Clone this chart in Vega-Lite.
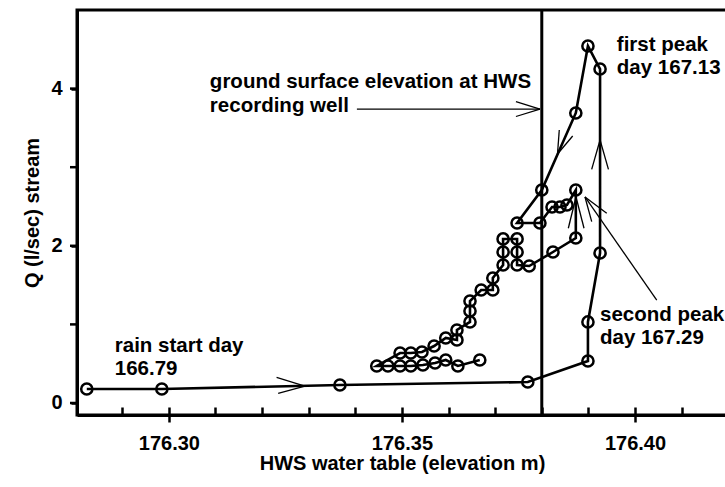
{
  "$schema": "https://vega.github.io/schema/vega-lite/v6.json",
  "width": 650,
  "height": 405,
  "autosize": {"type": "none"},
  "padding": {"left": 77, "top": 10, "right": 0, "bottom": 72},
  "background": "white",
  "config": {
    "view": {"stroke": "black", "strokeWidth": 3},
    "font": "Liberation Sans",
    "axis": {
      "grid": false,
      "domainColor": "black",
      "domainWidth": 3,
      "tickColor": "black",
      "tickWidth": 2.5,
      "labelColor": "black",
      "labelFont": "Liberation Sans",
      "labelFontWeight": "bold",
      "labelFontSize": 20,
      "titleColor": "black",
      "titleFont": "Liberation Sans",
      "titleFontWeight": "bold",
      "titleFontSize": 20
    }
  },
  "datasets": {
    "pts": [
      {"ord": 1, "x": 176.2824, "q": 0.178},
      {"ord": 2, "x": 176.2985, "q": 0.178},
      {"ord": 3, "x": 176.3367, "q": 0.229},
      {"ord": 4, "x": 176.3770, "q": 0.267},
      {"ord": 5, "x": 176.3899, "q": 0.534},
      {"ord": 6, "x": 176.3899, "q": 1.031},
      {"ord": 7, "x": 176.3925, "q": 1.908},
      {"ord": 8, "x": 176.3925, "q": 4.249},
      {"ord": 9, "x": 176.3899, "q": 4.542},
      {"ord": 10, "x": 176.3873, "q": 3.690},
      {"ord": 11, "x": 176.3800, "q": 2.710},
      {"ord": 12, "x": 176.3747, "q": 2.290},
      {"ord": 13, "x": 176.3796, "q": 2.290},
      {"ord": 14, "x": 176.3822, "q": 2.494},
      {"ord": 15, "x": 176.3839, "q": 2.494},
      {"ord": 16, "x": 176.3854, "q": 2.519},
      {"ord": 17, "x": 176.3873, "q": 2.710},
      {"ord": 18, "x": 176.3873, "q": 2.099},
      {"ord": 19, "x": 176.3824, "q": 1.921},
      {"ord": 20, "x": 176.3773, "q": 1.743},
      {"ord": 21, "x": 176.3747, "q": 1.756},
      {"ord": 22, "x": 176.3747, "q": 1.921},
      {"ord": 23, "x": 176.3747, "q": 2.087},
      {"ord": 24, "x": 176.3717, "q": 2.087},
      {"ord": 25, "x": 176.3717, "q": 1.921},
      {"ord": 26, "x": 176.3717, "q": 1.756},
      {"ord": 27, "x": 176.3695, "q": 1.590},
      {"ord": 28, "x": 176.3695, "q": 1.438},
      {"ord": 29, "x": 176.3670, "q": 1.438},
      {"ord": 30, "x": 176.3646, "q": 1.298},
      {"ord": 31, "x": 176.3646, "q": 1.170},
      {"ord": 32, "x": 176.3646, "q": 1.031},
      {"ord": 33, "x": 176.3618, "q": 0.929},
      {"ord": 34, "x": 176.3618, "q": 0.802},
      {"ord": 35, "x": 176.3594, "q": 0.827},
      {"ord": 36, "x": 176.3569, "q": 0.725},
      {"ord": 37, "x": 176.3543, "q": 0.649},
      {"ord": 38, "x": 176.3519, "q": 0.636},
      {"ord": 39, "x": 176.3496, "q": 0.636},
      {"ord": 40, "x": 176.3446, "q": 0.471},
      {"ord": 41, "x": 176.3470, "q": 0.471},
      {"ord": 42, "x": 176.3496, "q": 0.471},
      {"ord": 43, "x": 176.3519, "q": 0.471},
      {"ord": 44, "x": 176.3545, "q": 0.483},
      {"ord": 45, "x": 176.3571, "q": 0.509},
      {"ord": 46, "x": 176.3594, "q": 0.547},
      {"ord": 47, "x": 176.3620, "q": 0.471},
      {"ord": 48, "x": 176.3667, "q": 0.547}
    ],
    "segs": [
      {"x": 176.32311, "y": 0.327, "x2": 176.32918, "y2": 0.216},
      {"x": 176.32345, "y": 0.123, "x2": 176.32918, "y2": 0.216},
      {"x": 176.3907, "y": 2.973, "x2": 176.3925, "y2": 3.346},
      {"x": 176.3943, "y": 2.973, "x2": 176.3925, "y2": 3.346},
      {"x": 176.38375, "y": 3.473, "x2": 176.38337, "y2": 3.168},
      {"x": 176.38663, "y": 3.397, "x2": 176.38337, "y2": 3.168},
      {"x": 176.40466, "y": 1.310, "x2": 176.38927, "y2": 2.621},
      {"x": 176.39393, "y": 2.413, "x2": 176.38927, "y2": 2.621},
      {"x": 176.39071, "y": 2.307, "x2": 176.38927, "y2": 2.621},
      {"x": 176.38569, "y": 2.223, "x2": 176.38734, "y2": 2.621},
      {"x": 176.38906, "y": 2.223, "x2": 176.38734, "y2": 2.621},
      {"x": 176.34034, "y": 3.74, "x2": 176.37961, "y2": 3.74},
      {"x": 176.37446, "y": 3.835, "x2": 176.37961, "y2": 3.74},
      {"x": 176.37446, "y": 3.645, "x2": 176.37961, "y2": 3.74}
    ],
    "labels": [
      {"x": 176.2884, "y": 0.649, "t": "rain start day"},
      {"x": 176.2884, "y": 0.356, "t": "166.79"},
      {"x": 176.3088, "y": 4.008, "t": "ground surface elevation at HWS"},
      {"x": 176.3088, "y": 3.705, "t": "recording well"},
      {"x": 176.3961, "y": 4.478, "t": "first peak"},
      {"x": 176.3961, "y": 4.186, "t": "day 167.13"},
      {"x": 176.3925, "y": 1.043, "t": "second peak"},
      {"x": 176.3925, "y": 0.751, "t": "day 167.29"}
    ],
    "yticks": [
      {"v": 0, "edge": 176.2803},
      {"v": 1, "edge": 176.2803},
      {"v": 2, "edge": 176.2803},
      {"v": 3, "edge": 176.2803},
      {"v": 4, "edge": 176.2803}
    ]
  },
  "layer": [
    {
      "data": {"values": [{"ground": 176.38}]},
      "mark": {"type": "rule", "color": "black", "strokeWidth": 3},
      "encoding": {
        "x": {
          "field": "ground", "type": "quantitative",
          "scale": {"domain": [176.2803, 176.41973], "nice": false, "zero": false},
          "axis": {
            "orient": "bottom",
            "values": [176.30, 176.35, 176.40],
            "format": ".2f",
            "tickSize": 7,
            "labelPadding": 11,
            "title": "HWS water table (elevation m)",
            "titlePadding": 0
          }
        }
      }
    },
    {
      "data": {"name": "pts"},
      "mark": {"type": "line", "color": "black", "strokeWidth": 2.6},
      "encoding": {
        "x": {
          "field": "x", "type": "quantitative",
          "scale": {"domain": [176.2803, 176.41973], "nice": false, "zero": false},
          "axis": {
            "orient": "bottom",
            "values": [176.29, 176.30, 176.31, 176.32, 176.33, 176.34, 176.35, 176.36, 176.37, 176.38, 176.39, 176.40, 176.41],
            "tickSize": -8,
            "labels": false,
            "domain": false,
            "title": null
          }
        },
        "y": {
          "field": "q", "type": "quantitative",
          "scale": {"domain": [-0.1527, 5.0], "nice": false, "zero": false},
          "axis": {
            "orient": "left",
            "values": [0, 2, 4],
            "format": "d",
            "tickSize": 6,
            "labelPadding": 9,
            "title": "Q (l/sec) stream",
            "titlePadding": 8
          }
        },
        "order": {"field": "ord", "type": "quantitative"}
      }
    },
    {
      "data": {"name": "yticks"},
      "mark": {"type": "rule", "color": "black", "strokeWidth": 2.5, "xOffset": -7, "x2Offset": 0},
      "encoding": {
        "x": {"field": "edge", "type": "quantitative", "axis": null},
        "x2": {"field": "edge"},
        "y": {"field": "v", "type": "quantitative", "axis": null}
      }
    },
    {
      "data": {"name": "segs"},
      "mark": {"type": "rule", "color": "black", "strokeWidth": 1.3},
      "encoding": {
        "x": {"field": "x", "type": "quantitative", "axis": null},
        "y": {"field": "y", "type": "quantitative", "axis": null},
        "x2": {"field": "x2"},
        "y2": {"field": "y2"}
      }
    },
    {
      "data": {"name": "pts"},
      "mark": {"type": "point", "shape": "circle", "filled": false, "stroke": "black", "strokeWidth": 2.5, "size": 125, "opacity": 1},
      "encoding": {
        "x": {"field": "x", "type": "quantitative", "axis": null},
        "y": {"field": "q", "type": "quantitative", "axis": null}
      }
    },
    {
      "data": {"name": "labels"},
      "mark": {"type": "text", "align": "left", "baseline": "alphabetic", "font": "Liberation Sans", "fontWeight": "bold", "fontSize": 20.5, "color": "black"},
      "encoding": {
        "x": {"field": "x", "type": "quantitative", "axis": null},
        "y": {"field": "y", "type": "quantitative", "axis": null},
        "text": {"field": "t"}
      }
    }
  ],
  "resolve": {"axis": {"x": "independent", "y": "independent"}}
}
